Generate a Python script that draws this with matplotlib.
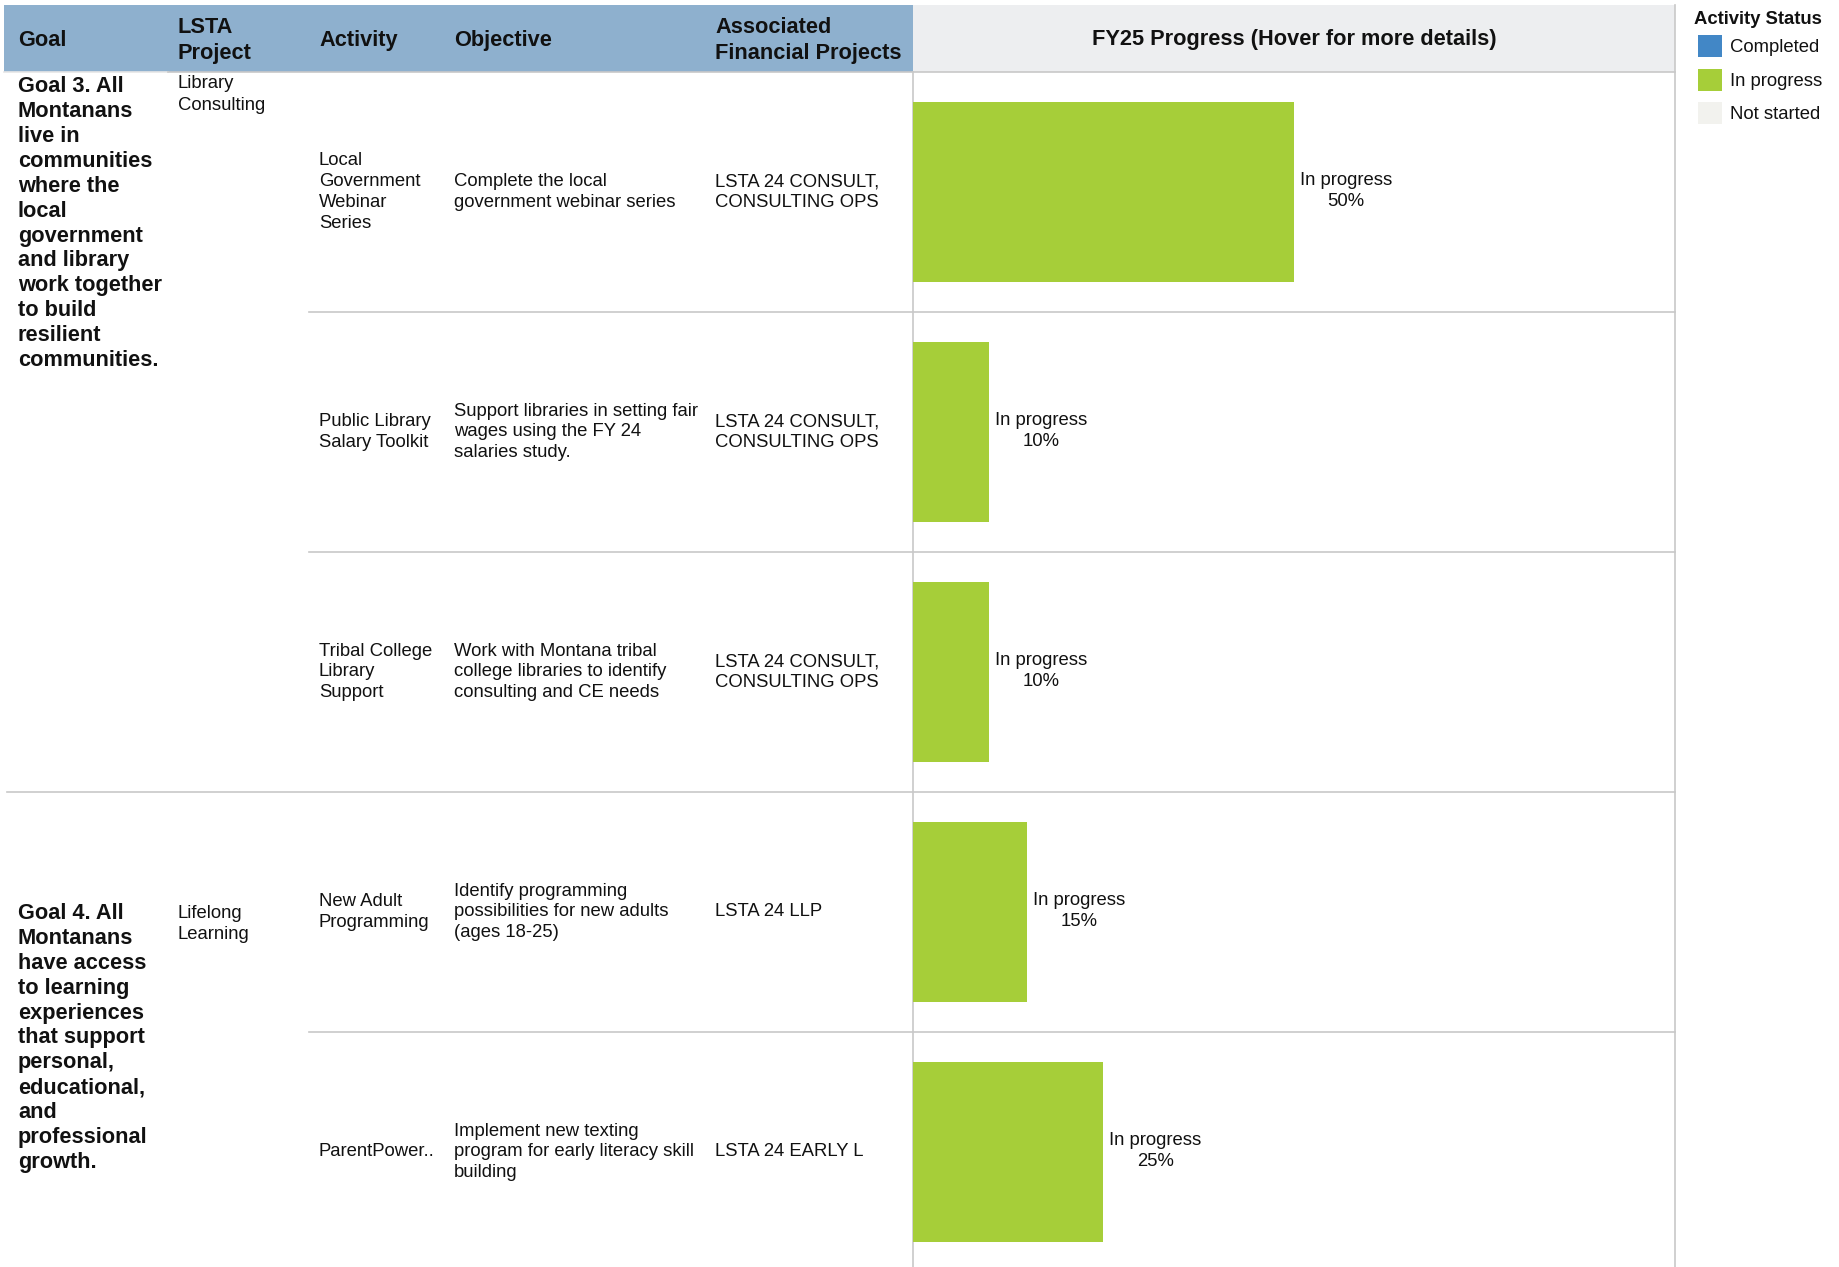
import matplotlib
matplotlib.use("Agg")
import matplotlib.pyplot as plt
from matplotlib.patches import Rectangle

# ---------------- data ----------------
goals = [
    "Goal 3. All\nMontanans\nlive in\ncommunities\nwhere the\nlocal\ngovernment\nand library\nwork together\nto build\nresilient\ncommunities.",
    "Goal 4. All\nMontanans\nhave access\nto learning\nexperiences\nthat support\npersonal,\neducational,\nand\nprofessional\ngrowth.",
]
goal_row_counts = [3, 2]
lsta_projects = ["Library\nConsulting", "Lifelong\nLearning"]
activities = [
    "Local\nGovernment\nWebinar\nSeries",
    "Public Library\nSalary Toolkit",
    "Tribal College\nLibrary\nSupport",
    "New Adult\nProgramming",
    "ParentPower..",
]
objectives = [
    "Complete the local\ngovernment webinar series",
    "Support libraries in setting fair\nwages using the FY 24\nsalaries study.",
    "Work with Montana tribal\ncollege libraries to identify\nconsulting and CE needs",
    "Identify programming\npossibilities for new adults\n(ages 18-25)",
    "Implement new texting\nprogram for early literacy skill\nbuilding",
]
financial_projects = [
    "LSTA 24 CONSULT,\nCONSULTING OPS",
    "LSTA 24 CONSULT,\nCONSULTING OPS",
    "LSTA 24 CONSULT,\nCONSULTING OPS",
    "LSTA 24 LLP",
    "LSTA 24 EARLY L",
]
progress = [50, 10, 10, 15, 25]
status = ["In progress", "In progress", "In progress", "In progress", "In progress"]
headers = ["Goal", "LSTA\nProject", "Activity", "Objective", "Associated\nFinancial Projects"]
chart_header = "FY25 Progress (Hover for more details)"
legend_title = "Activity Status"
legend_labels = ["Completed", "In progress", "Not started"]
legend_colors = ["#4287C6", "#A6CE39", "#F2F2EE"]

# ---------------- layout ----------------
W, H = 1840, 1267
HEAD_TOP, HEAD_BOT = 5, 72
ROW_H = 240
CHART_L, CHART_R = 913, 1675
COL_X = [18, 178, 319, 454, 715]
FS_BODY = 13.3
FS_BOLD = 15.7
LS = 1.3
LS_BOLD = 1.245
GRID = "#C8C8C8"
TXT = "#111111"
FONT = "Liberation Sans"
color_map = dict(zip(legend_labels, legend_colors))

plt.rcParams["font.family"] = [FONT, "DejaVu Sans"]

fig = plt.figure(figsize=(W / 100, H / 100), dpi=100)
fig.patch.set_facecolor("white")
bg = fig.add_axes([0, 0, 1, 1])
bg.set_xlim(0, W)
bg.set_ylim(H, 0)
bg.axis("off")

# header backgrounds
bg.add_patch(Rectangle((4, HEAD_TOP), CHART_L - 4, HEAD_BOT - HEAD_TOP,
                       facecolor="#8EB0CE", edgecolor="none", zorder=1))
bg.add_patch(Rectangle((CHART_L, HEAD_TOP), CHART_R - CHART_L, HEAD_BOT - HEAD_TOP,
                       facecolor="#EDEEF0", edgecolor="none", zorder=1))
for x, h in zip(COL_X, headers):
    bg.text(x, (HEAD_TOP + HEAD_BOT) / 2 + 2, h, fontsize=FS_BOLD, fontweight="bold",
            va="center", ha="left", linespacing=1.33, color=TXT, zorder=3)
bg.text((CHART_L + CHART_R) / 2, (HEAD_TOP + HEAD_BOT) / 2 + 1.5, chart_header,
        fontsize=FS_BOLD, fontweight="bold", va="center", ha="center",
        color=TXT, zorder=3)

# header bottom line
bg.plot([4, 168], [HEAD_BOT, HEAD_BOT], color="#E6E6E6", lw=1.2, zorder=2)
bg.plot([168, CHART_R], [HEAD_BOT, HEAD_BOT], color=GRID, lw=1.2, zorder=2)

# vertical lines
bg.plot([CHART_L, CHART_L], [HEAD_BOT, H], color=GRID, lw=1.2, zorder=2)
bg.plot([CHART_R, CHART_R], [HEAD_TOP, H], color=GRID, lw=1.2, zorder=2)

# row separators
n_rows = len(activities)
goal_bounds = []
acc = 0
for c in goal_row_counts:
    acc += c
    goal_bounds.append(acc)
for k in range(1, n_rows):
    y = HEAD_BOT + ROW_H * k
    x0 = 7 if k in goal_bounds else 309
    bg.plot([x0, CHART_R], [y, y], color=GRID, lw=1.2, zorder=2)

# row texts
for i in range(n_rows):
    yc = HEAD_BOT + ROW_H * (i + 0.5)
    for x, txt in zip(COL_X[2:], [activities[i], objectives[i], financial_projects[i]]):
        bg.text(x, yc, txt, fontsize=FS_BODY, va="center", ha="left",
                linespacing=LS, color=TXT, zorder=3)

# goal texts
start = 0
for g, (gtxt, cnt, ltxt) in enumerate(zip(goals, goal_row_counts, lsta_projects)):
    if g == 0:
        bg.text(COL_X[0], HEAD_BOT + 4, gtxt, fontsize=FS_BOLD, fontweight="bold",
                va="top", ha="left", linespacing=LS_BOLD, color=TXT, zorder=3)
        bg.text(COL_X[1], HEAD_BOT + 3.5, ltxt, fontsize=FS_BODY, va="top", ha="left",
                linespacing=LS + 0.05, color=TXT, zorder=3)
    else:
        yc = HEAD_BOT + ROW_H * (start + cnt / 2) + 6
        bg.text(COL_X[0], yc, gtxt, fontsize=FS_BOLD, fontweight="bold",
                va="center", ha="left", linespacing=LS_BOLD, color=TXT, zorder=3)
        bg.text(COL_X[1], HEAD_BOT + ROW_H * start + 112.5, ltxt, fontsize=FS_BODY,
                va="top", ha="left", linespacing=LS + 0.05, color=TXT, zorder=3)
    start += cnt

# legend
bg.text(1694, 20, legend_title, fontsize=FS_BODY, fontweight="bold",
        va="center", ha="left", color=TXT)
for j, (lab, col) in enumerate(zip(legend_labels, legend_colors)):
    ytop = 35 + 33.5 * j
    bg.add_patch(Rectangle((1698, ytop), 24, 22, facecolor=col, edgecolor="none"))
    bg.text(1730, ytop + 12.5, lab, fontsize=FS_BODY, va="center", ha="left",
            color=TXT)

# ---------------- bars ----------------
ax_h = (H - HEAD_BOT) / H
ax = fig.add_axes([CHART_L / W, 0, (CHART_R - CHART_L) / W, ax_h])
ax.patch.set_alpha(0)
ax.set_xlim(0, 100)
ax.set_ylim((H - HEAD_BOT) / ROW_H, 0)
ax.axis("off")
ypos = [i + 0.5 for i in range(n_rows)]
ax.barh(ypos, progress, height=0.75, left=0,
        color=[color_map[s] for s in status], zorder=2)
for y, v, s in zip(ypos, progress, status):
    ax.annotate(f"{s}\n{v}%", xy=(v, y), xytext=(6, 1), textcoords="offset pixels",
                ha="left", va="center", multialignment="center", fontsize=FS_BODY,
                linespacing=LS, color=TXT)

fig.savefig("out.png", dpi=100, facecolor="white")
